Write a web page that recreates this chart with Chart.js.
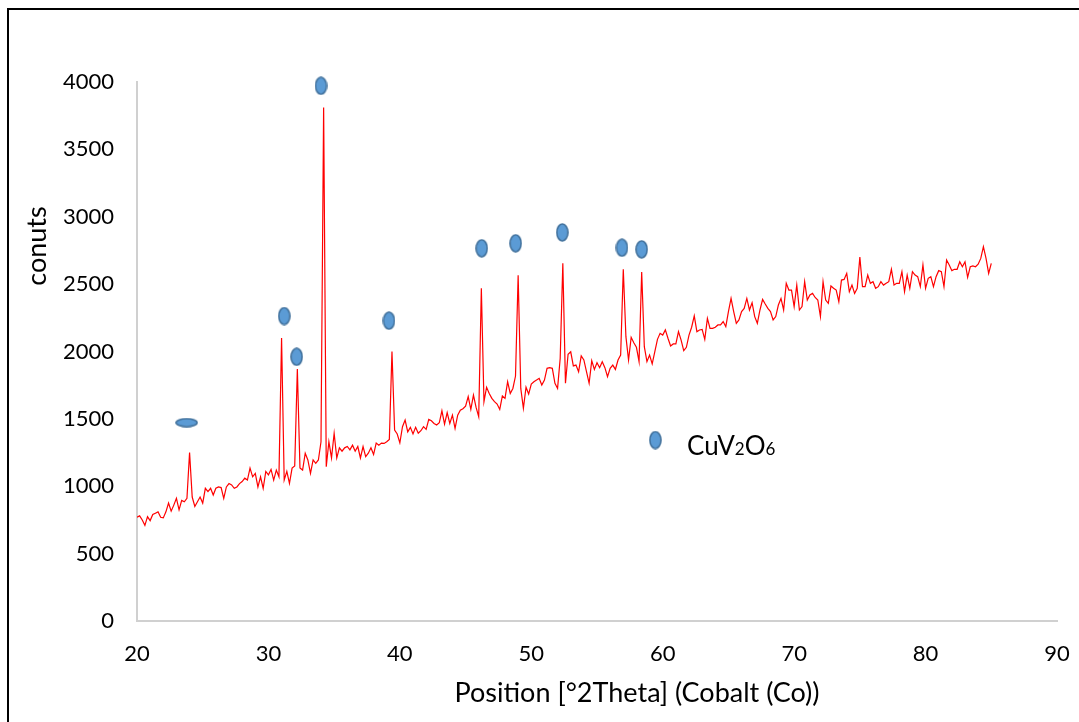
<!DOCTYPE html>
<html>
<head>
<meta charset="utf-8">
<script src="https://cdn.jsdelivr.net/npm/chart.js@4.4.1/dist/chart.umd.min.js"></script>
<style>
  html, body { margin: 0; padding: 0; background: #fff; }
  #wrap { position: relative; width: 1079px; height: 722px; overflow: hidden; }
  #xrd { position: absolute; left: 0; top: 0; }
  #frame { position: absolute; left: 7px; top: 8px; width: 1100px; height: 800px;
           border-left: 2px solid #000; border-top: 2px solid #000; pointer-events: none; }
</style>
</head>
<body>
<div id="wrap">
  <canvas id="xrd" width="1079" height="722"></canvas>
  <div id="frame"></div>
</div>
<script>
// scan: 20 -> 85 deg, one reading every 0.2 deg
const startTheta = 20;
const stepTheta = 0.2;
const counts = [
  770, 780, 750, 710, 775, 745, 790, 800, 810, 770,
  765, 810, 875, 815, 860, 910, 825, 895, 885, 910,
  1250, 920, 850, 885, 920, 875, 985, 960, 985, 935,
  985, 995, 990, 910, 995, 1020, 1010, 985, 995, 1020,
  1035, 1060, 1046, 1135, 1070, 1095, 995, 1070, 985, 1110,
  1085, 1125, 1046, 1120, 1070, 2100, 1046, 1110, 1022, 1135,
  1150, 1870, 1135, 1120, 1245, 1195, 1096, 1195, 1170, 1195,
  1330, 3810, 1145, 1330, 1210, 1393, 1210, 1285, 1260, 1285,
  1295, 1270, 1305, 1260, 1295, 1210, 1295, 1220, 1245, 1285,
  1235, 1320, 1305, 1320, 1318, 1330, 1348, 2000, 1417, 1388,
  1322, 1442, 1491, 1404, 1437, 1388, 1437, 1393, 1412, 1442,
  1422, 1496, 1486, 1466, 1454, 1471, 1560, 1461, 1546, 1466,
  1528, 1429, 1528, 1565, 1575, 1595, 1665, 1570, 1677, 1585,
  1516, 2470, 1628, 1735, 1689, 1652, 1628, 1610, 1570, 1670,
  1652, 1776, 1689, 1726, 1818, 2565, 1726, 1578, 1735, 1684,
  1759, 1776, 1788, 1801, 1751, 1788, 1875, 1880, 1875, 1764,
  1726, 1950, 2655, 1764, 1980, 1998, 1893, 1899, 1850, 1967,
  1937, 1850, 1764, 1932, 1867, 1917, 1880, 1924, 1880, 1813,
  1875, 1899, 1867, 1937, 1974, 2610, 2110, 1937, 2105, 2065,
  2031, 1925, 2590, 2036, 1925, 1974, 1908, 1999, 2090, 2135,
  2122, 2160, 2098, 2041, 2056, 2056, 2147, 2085, 2006, 2031,
  2122, 2180, 2264, 2147, 2160, 2164, 2090, 2246, 2172, 2172,
  2180, 2197, 2197, 2222, 2184, 2296, 2394, 2296, 2209, 2234,
  2296, 2320, 2394, 2308, 2362, 2259, 2209, 2308, 2387, 2352,
  2320, 2296, 2234, 2259, 2345, 2394, 2308, 2506, 2456, 2456,
  2333, 2493, 2308, 2333, 2518, 2382, 2419, 2431, 2401, 2382,
  2259, 2518, 2382, 2357, 2486, 2469, 2456, 2370, 2530, 2535,
  2580, 2444, 2493, 2431, 2469, 2700, 2481, 2481, 2567, 2506,
  2518, 2469, 2481, 2518, 2493, 2506, 2518, 2610, 2493, 2506,
  2506, 2592, 2444, 2567, 2469, 2592, 2567, 2555, 2481, 2642,
  2469, 2543, 2555, 2481, 2555, 2600, 2592, 2481, 2679, 2642,
  2600, 2610, 2610, 2666, 2629, 2666, 2550, 2629, 2635, 2629,
  2648, 2691, 2778, 2691, 2580, 2654
];

// CuV2O6 reflections (blue markers) and the unmarked phase marker
const peakTheta = [31.2, 32.15, 34.0, 39.17, 46.23, 48.81, 52.36, 56.9, 58.4];
const peakMark = [2263, 1961, 3972, 2229, 2766, 2803, 2884, 2770, 2758];
const otherTheta = [23.78];
const otherMark = [1472];

const xMin = 20, xMax = 90, xStep = 10;
const yMin = 0, yMax = 4000, yStep = 500;

const FONT = "Lato, 'Open Sans', sans-serif";

function ellipseImg(w, h) {
  const c = document.createElement("canvas");
  c.width = w;
  c.height = h;
  const g = c.getContext("2d");
  g.beginPath();
  g.ellipse(w / 2, h / 2, w / 2 - 1, h / 2 - 1, 0, 0, Math.PI * 2);
  g.fillStyle = "#5b9bd5";
  g.fill();
  g.lineWidth = 1.6;
  g.strokeStyle = "#41719c";
  g.stroke();
  return c;
}
const dotV = ellipseImg(13, 19);
const dotH = ellipseImg(23, 10);

const scan = counts.map((c, i) => ({ x: +(startTheta + i * stepTheta).toFixed(1), y: c }));

const extraText = {
  id: "extraText",
  afterDraw(chart) {
    const { ctx, scales } = chart;
    ctx.save();
    ctx.fillStyle = "#000";

    // y title
    ctx.save();
    ctx.translate(37, 246);
    ctx.rotate(-Math.PI / 2);
    ctx.font = "27px " + FONT;
    ctx.textAlign = "center";
    ctx.textBaseline = "middle";
    ctx.fillText("conuts", 0, 0);
    ctx.restore();

    // x title
    ctx.font = "27px " + FONT;
    ctx.textAlign = "center";
    ctx.textBaseline = "alphabetic";
    ctx.fillText("Position [°2Theta] (Cobalt (Co))", 637, 702);

    // legend key
    const lx = scales.x.getPixelForValue(59.44);
    const ly = scales.y.getPixelForValue(1343);
    ctx.drawImage(dotV, lx - dotV.width / 2, ly - dotV.height / 2);
    let tx = 687;
    const base = 455;
    ctx.textAlign = "left";
    const parts = [["CuV", 26], ["2", 17], ["O", 26], ["6", 17]];
    parts.forEach(([t, s]) => {
      ctx.font = s + "px " + FONT;
      ctx.fillText(t, tx, base);
      tx += ctx.measureText(t).width;
    });
    ctx.restore();
  }
};

new Chart(document.getElementById("xrd"), {
  type: "line",
  data: {
    datasets: [
      {
        data: peakTheta.map((t, i) => ({ x: t, y: peakMark[i] })),
        showLine: false,
        pointStyle: dotV,
        pointRadius: 8,
        clip: false,
        order: 1
      },
      {
        data: otherTheta.map((t, i) => ({ x: t, y: otherMark[i] })),
        showLine: false,
        pointStyle: dotH,
        pointRadius: 8,
        clip: false,
        order: 1
      },
      {
        data: scan,
        borderColor: "#ff0000",
        borderWidth: 1.2,
        pointRadius: 0,
        tension: 0,
        order: 2
      }
    ]
  },
  options: {
    responsive: false,
    animation: false,
    events: [],
    layout: { padding: { left: 0, top: 82, right: 22, bottom: 0 } },
    plugins: {
      legend: { display: false },
      tooltip: { enabled: false }
    },
    scales: {
      x: {
        type: "linear",
        min: xMin,
        max: xMax,
        afterFit: s => {
          s.height = 101;
          s.paddingLeft = 0;
          s.paddingRight = 0;
        },
        ticks: { stepSize: xStep, color: "#000", padding: 20, font: { family: FONT, size: 22 }, maxRotation: 0 },
        grid: { display: false, drawTicks: false },
        border: { color: "#d0d0d0", width: 2 }
      },
      y: {
        min: yMin,
        max: yMax,
        afterFit: s => {
          s.width = 137;
          s.paddingTop = 0;
          s.paddingBottom = 0;
        },
        ticks: {
          stepSize: yStep,
          color: "#000",
          padding: 23,
          font: { family: FONT, size: 22 },
          callback: v => String(v)
        },
        grid: { display: false, drawTicks: false },
        border: { color: "#d0d0d0", width: 2 }
      }
    }
  },
  plugins: [extraText]
});
</script>
</body>
</html>
